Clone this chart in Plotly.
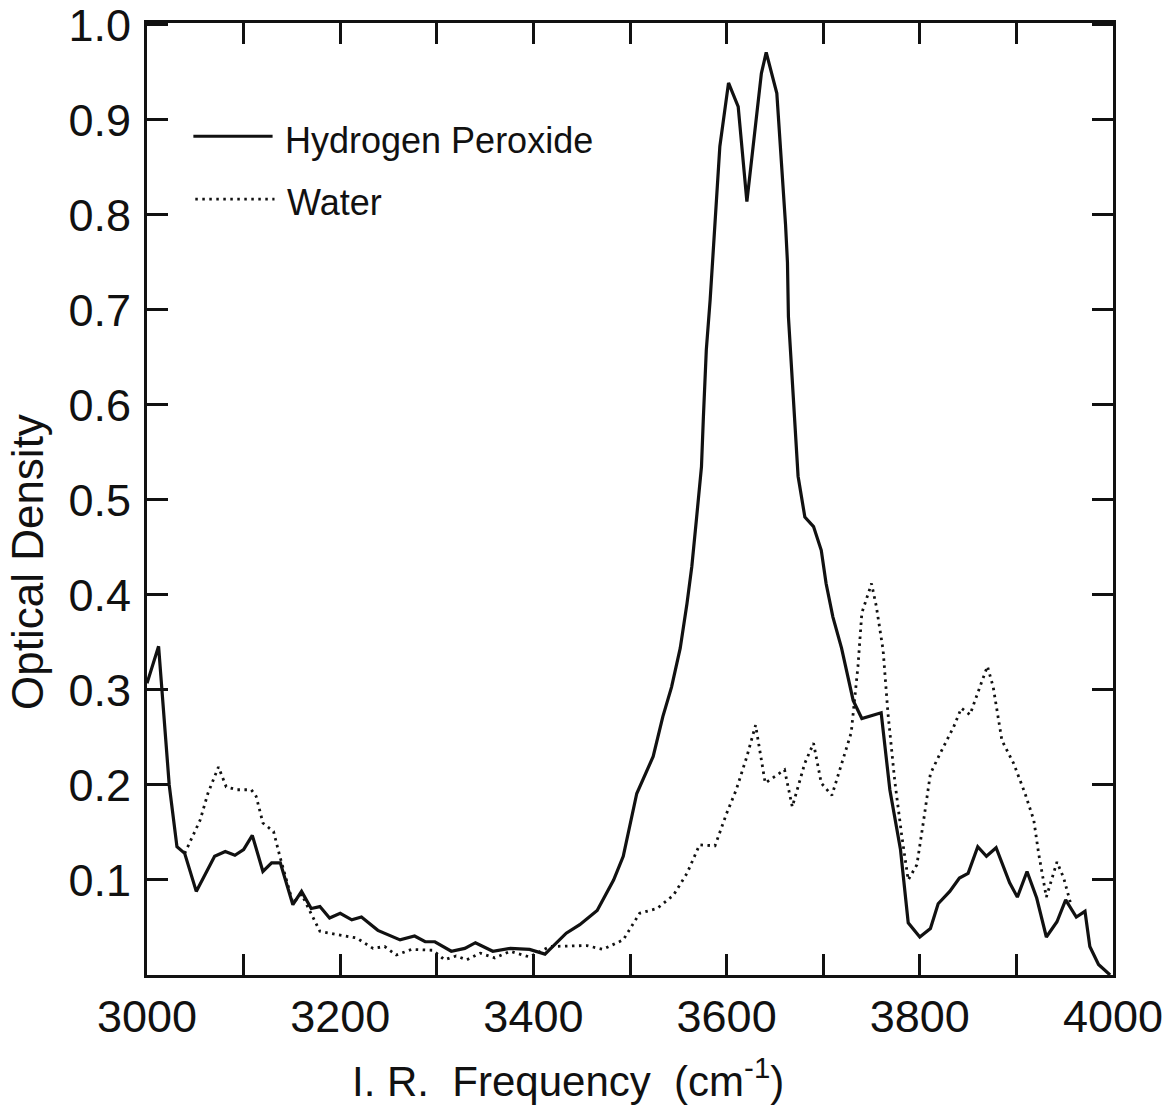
import plotly.graph_objects as go

# I.R. spectra: optical density vs. frequency (cm^-1)
peroxide_freq = [3000, 3012, 3023, 3031, 3039, 3051, 3070, 3081, 3091, 3100, 3109, 3120,
                 3129, 3138, 3151, 3160, 3170, 3179, 3189, 3200, 3212, 3222, 3239, 3262,
                 3277, 3288, 3298, 3315, 3329, 3340, 3358, 3376, 3396, 3412, 3434, 3448,
                 3466, 3483, 3493, 3507, 3524, 3534, 3543, 3552, 3559, 3564, 3569, 3574,
                 3576, 3579, 3583, 3586, 3593, 3602, 3612, 3621, 3636, 3641, 3652, 3661,
                 3663, 3664, 3667, 3671, 3674, 3681, 3690, 3698, 3703, 3710, 3719, 3731,
                 3740, 3760, 3769, 3780, 3788, 3800, 3811, 3819, 3831, 3841, 3850, 3860,
                 3869, 3879, 3893, 3901, 3911, 3921, 3931, 3942, 3951, 3962, 3971, 3976,
                 3985, 3997]
peroxide_od = [0.307, 0.346, 0.200, 0.135, 0.128, 0.088, 0.125, 0.130, 0.126, 0.132, 0.147, 0.109,
               0.118, 0.118, 0.074, 0.088, 0.070, 0.072, 0.060, 0.065, 0.058, 0.061, 0.047, 0.037,
               0.041, 0.035, 0.035, 0.025, 0.028, 0.034, 0.025, 0.028, 0.027, 0.022, 0.044, 0.053,
               0.068, 0.100, 0.125, 0.191, 0.230, 0.272, 0.303, 0.344, 0.391, 0.430, 0.482, 0.535,
               0.588, 0.658, 0.711, 0.763, 0.872, 0.939, 0.914, 0.814, 0.949, 0.971, 0.928, 0.790,
               0.750, 0.693, 0.640, 0.570, 0.525, 0.482, 0.472, 0.447, 0.412, 0.377, 0.344, 0.289,
               0.270, 0.276, 0.195, 0.132, 0.055, 0.040, 0.049, 0.075, 0.088, 0.102, 0.107, 0.135,
               0.125, 0.134, 0.097, 0.082, 0.109, 0.081, 0.040, 0.056, 0.079, 0.061, 0.067, 0.030,
               0.011, 0.000]

water_freq = [3039, 3055, 3063, 3074, 3082, 3093, 3108, 3113, 3120, 3131, 3138, 3151,
              3160, 3179, 3200, 3217, 3234, 3246, 3258, 3274, 3296, 3308, 3320, 3331,
              3345, 3360, 3376, 3396, 3417, 3455, 3472, 3493, 3510, 3528, 3545, 3559,
              3572, 3588, 3600, 3610, 3621, 3630, 3640, 3660, 3668, 3681, 3690, 3698,
              3709, 3719, 3729, 3736, 3740, 3750, 3755, 3762, 3767, 3774, 3781, 3788,
              3797, 3804, 3811, 3821, 3835, 3843, 3852, 3860, 3870, 3876, 3885, 3897,
              3909, 3918, 3923, 3931, 3942, 3949, 3957]
water_od = [0.128, 0.163, 0.191, 0.219, 0.198, 0.195, 0.195, 0.188, 0.160, 0.151, 0.123, 0.076,
            0.085, 0.046, 0.042, 0.039, 0.028, 0.030, 0.021, 0.027, 0.026, 0.016, 0.020, 0.016,
            0.023, 0.018, 0.025, 0.019, 0.030, 0.031, 0.027, 0.037, 0.065, 0.070, 0.084, 0.107,
            0.137, 0.136, 0.170, 0.195, 0.230, 0.263, 0.202, 0.216, 0.177, 0.223, 0.244, 0.202,
            0.189, 0.221, 0.255, 0.325, 0.381, 0.412, 0.388, 0.342, 0.276, 0.205, 0.149, 0.100,
            0.116, 0.163, 0.212, 0.233, 0.261, 0.281, 0.274, 0.297, 0.325, 0.303, 0.247, 0.223,
            0.191, 0.163, 0.128, 0.082, 0.119, 0.102, 0.072]

x_tick_vals = list(range(3000, 4001, 100))
x_tick_text = ["3000", "", "3200", "", "3400", "", "3600", "", "3800", "", "4000"]
y_tick_vals = [0.1, 0.2, 0.3, 0.4, 0.5, 0.6, 0.7, 0.8, 0.9, 1.0]
y_tick_text = ["0.1", "0.2", "0.3", "0.4", "0.5", "0.6", "0.7", "0.8", "0.9", "1.0"]

series_names = ["Hydrogen Peroxide", "Water"]

FONT = "Liberation Sans, Arial, sans-serif"
INK = "#111111"
DOTS = "2.5px,4.5px"

fig = go.Figure()
fig.add_trace(go.Scatter(x=peroxide_freq, y=peroxide_od, mode="lines",
                         line=dict(color=INK, width=3.2), name=series_names[0],
                         showlegend=False))
fig.add_trace(go.Scatter(x=water_freq, y=water_od, mode="lines",
                         line=dict(color=INK, width=2.8, dash=DOTS),
                         name=series_names[1], showlegend=False))

axis_common = dict(showline=True, linewidth=3, linecolor=INK, mirror="ticks",
                   ticks="inside", ticklen=21, tickwidth=2.5, tickcolor=INK,
                   showgrid=False, zeroline=False, ticklabeloverflow="allow",
                   automargin=False,
                   tickfont=dict(family=FONT, size=45, color=INK))

fig.update_xaxes(range=[3000, 4000], tickvals=x_tick_vals, ticktext=x_tick_text,
                 **axis_common)
# a hair of headroom so the 1.0 tick at the top edge is kept
fig.update_yaxes(range=[0, 1.002], tickvals=y_tick_vals, ticktext=y_tick_text,
                 ticklabelstandoff=4, **axis_common)

# hand-drawn style key in the upper left
key_rows = [
    dict(x0=0.048, x1=0.130, y=0.881, dash="solid", width=3),
    dict(x0=0.050, x1=0.132, y=0.815, dash=DOTS, width=2.8),
]
for row, label in zip(key_rows, series_names):
    fig.add_shape(type="line", xref="paper", yref="paper",
                  x0=row["x0"], x1=row["x1"], y0=row["y"], y1=row["y"],
                  line=dict(color=INK, width=row["width"], dash=row["dash"]))
    fig.add_annotation(xref="paper", yref="paper", x=row["x1"] + 0.011, y=row["y"] - 0.004,
                       text=label, showarrow=False, xanchor="left", yanchor="middle",
                       font=dict(family=FONT, size=36, color=INK))

fig.add_annotation(xref="paper", yref="paper", x=-0.123, y=0.434,
                   text="Optical Density", textangle=-90, showarrow=False,
                   xanchor="center", yanchor="middle",
                   font=dict(family=FONT, size=44, color=INK))
fig.add_annotation(xref="paper", yref="paper", x=(568 - 147) / 966, y=-0.108,
                   text="I. R.  Frequency  (cm<sup>-1</sup>)", showarrow=False,
                   xanchor="center", yanchor="middle",
                   font=dict(family=FONT, size=42, color=INK))

fig.update_layout(width=1175, height=1105,
                  margin=dict(l=147, r=62, t=23, b=130, pad=0, autoexpand=False),
                  paper_bgcolor="white", plot_bgcolor="white",
                  showlegend=False)

fig.write_html("out.html")
